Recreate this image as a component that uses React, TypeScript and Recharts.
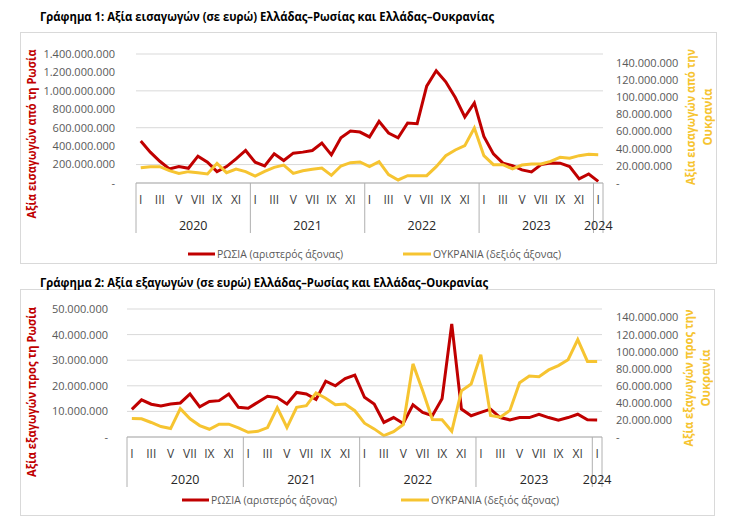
import { LineChart, Line, XAxis, YAxis, CartesianGrid } from 'recharts'

const FONT = '"Open Sans", sans-serif'
const RED = '#c00000'
const YELLOW = '#f6c431'
const GRID = '#d9d9d9'
const AXIS = '#b0b0b0'

const YEARS = [2020, 2021, 2022, 2023, 2024]
const MONTHS = ['I', 'II', 'III', 'IV', 'V', 'VI', 'VII', 'VIII', 'IX', 'X', 'XI', 'XII']
// Jan 2020 .. Jan 2024
const PERIODS = YEARS.flatMap((y) => (y === 2024 ? MONTHS.slice(0, 1) : MONTHS).map((_, i) => `${y}-${i}`))

// values in millions of euros
const RUSSIA_IMPORTS = [
  455, 335, 236, 153, 178, 160, 291, 225, 124, 178, 262, 353,
  225, 185, 316, 244, 324, 335, 353, 433, 305, 491, 564, 553,
  500, 669, 542, 491, 651, 644, 1051, 1218, 1098, 927, 716, 869,
  505, 316, 215, 189, 142, 120, 200, 218, 215, 178, 44, 98,
  18,
]
const UKRAINE_IMPORTS = [
  17.8, 19, 19, 14.3, 11.2, 13.2, 12, 10.5, 22.9, 12, 16.3, 13.2,
  8.1, 13.6, 18.2, 20.9, 11.2, 14.3, 15.9, 17.4, 8.9, 19.8, 23.6, 24.4,
  19, 24.8, 9.7, 3.5, 8.5, 8.5, 8.5, 19, 31.8, 38.4, 43.4, 64,
  31.8, 21.3, 21.3, 16.3, 20.9, 22.1, 22.1, 25.2, 29.8, 28.7, 31.8, 33.3,
  32.9,
]
const RUSSIA_EXPORTS = [
  10.8, 14.5, 12.8, 12.1, 12.9, 13.3, 16.8, 11.8, 13.9, 14.2, 16.8, 11.6,
  11.2, 13.6, 15.9, 15.4, 12.9, 17.4, 16.8, 14.7, 21.8, 20, 22.8, 24.2,
  15.5, 12.9, 5.7, 7.6, 5.3, 12.6, 9.6, 8.3, 14.9, 44.2, 10.9, 8.3,
  9.6, 10.9, 7.6, 6.7, 7.6, 7.6, 8.9, 7.6, 6.6, 7.6, 8.9, 6.7,
  6.6,
]
const UKRAINE_EXPORTS = [
  21.7, 21.3, 17, 12.2, 9.9, 33.2, 21.3, 13.4, 9.1, 15, 15, 10.7,
  5.5, 6.7, 11.1, 34.4, 11.1, 34.8, 36.7, 51.7, 45.4, 37.9, 38.7, 30.8,
  16.2, 9.5, 1.6, 6.3, 14.6, 85.7, 54.1, 20.5, 20.1, 6.7, 54.1, 62,
  96.4, 25.3, 23.3, 31.2, 63.6, 71.5, 70.7, 78.6, 83.7, 90.5, 114.2, 88.5,
  88.5,
]

const IMPORT_LEFT_TICKS = [0, 200, 400, 600, 800, 1000, 1200, 1400]
const EXPORT_LEFT_TICKS = [0, 10, 20, 30, 40, 50]
const RIGHT_TICKS = [0, 20, 40, 60, 80, 100, 120, 140]

const importData = PERIODS.map((p, i) => ({ period: p, russia: RUSSIA_IMPORTS[i], ukraine: UKRAINE_IMPORTS[i] }))
const exportData = PERIODS.map((p, i) => ({ period: p, russia: RUSSIA_EXPORTS[i], ukraine: UKRAINE_EXPORTS[i] }))

const fmt = (v: number) =>
  v === 0 ? '-' : String(Math.round(v * 1e6)).replace(/\B(?=(\d{3})+(?!\d))/g, '.')

const PeriodTick = ({ x, y, payload, step }: any) => {
  const [yr, mi] = String(payload.value).split('-')
  const m = Number(mi)
  const n = PERIODS.filter((p) => p.startsWith(yr + '-')).length
  const last = PERIODS.indexOf(payload.value) === PERIODS.length - 1
  const half = step / 2
  let yearX: number | null = null
  if (n % 2 === 0 && m === n / 2) yearX = x - half
  if (n % 2 === 1 && m === (n - 1) / 2) yearX = x
  return (
    <g>
      {m % 2 === 0 && (
        <text x={x} y={y + 17} dy="0.35em" textAnchor="middle" fill="#404040" fontSize={12} fontFamily={FONT}>
          {MONTHS[m]}
        </text>
      )}
      {m === 0 && <line x1={x - half} x2={x - half} y1={y} y2={y + 50} stroke={AXIS} />}
      {last && <line x1={x + half} x2={x + half} y1={y} y2={y + 50} stroke={AXIS} />}
      {yearX !== null && (
        <text x={yearX} y={y + 43} dy="0.35em" textAnchor="middle" fill="#262626" fontSize={12.5} fontFamily={FONT}>
          {yr}
        </text>
      )}
    </g>
  )
}

function Panel({ data, top, height, marginTop, plotLeft, plotRight, xHeight, leftMax, leftTicks, leftGap, rightGap }: any) {
  const width = 732
  const step = (plotRight - plotLeft) / PERIODS.length
  const tick = { fill: '#595959', fontSize: 11, fontFamily: FONT }
  return (
    <div style={{ position: 'absolute', left: 0, top }}>
      <LineChart width={width} height={height} data={data} margin={{ top: marginTop, right: 0, bottom: 0, left: 0 }}>
        <CartesianGrid yAxisId="left" vertical={false} stroke={GRID} />
        <XAxis
          dataKey="period"
          interval={0}
          height={xHeight}
          padding={{ left: step / 2, right: step / 2 }}
          tickLine={false}
          tickSize={0}
          tickMargin={0}
          axisLine={{ stroke: AXIS }}
          tick={(p: any) => <PeriodTick {...p} step={step} />}
        />
        <YAxis
          yAxisId="left"
          width={plotLeft}
          domain={[0, leftMax]}
          ticks={leftTicks}
          tickFormatter={fmt}
          axisLine={false}
          tickLine={false}
          tickSize={0}
          tickMargin={leftGap}
          tick={tick}
        />
        <YAxis
          yAxisId="right"
          orientation="right"
          width={width - plotRight}
          domain={[0, 150]}
          ticks={RIGHT_TICKS}
          tickFormatter={fmt}
          axisLine={false}
          tickLine={false}
          tickSize={0}
          tickMargin={rightGap}
          tick={tick}
        />
        <Line yAxisId="left" dataKey="russia" stroke={RED} strokeWidth={3} dot={false} isAnimationActive={false} />
        <Line yAxisId="right" dataKey="ukraine" stroke={YELLOW} strokeWidth={3} dot={false} isAnimationActive={false} />
      </LineChart>
    </div>
  )
}

const Legend = ({ y, redX, yellowX }: any) => (
  <g fontFamily={FONT} fontSize={11.5} fill="#595959">
    <line x1={redX} x2={redX + 27} y1={y} y2={y} stroke={RED} strokeWidth={3} />
    <text x={redX + 29} y={y} dy="0.35em" textLength={126} lengthAdjust="spacingAndGlyphs">
      ΡΩΣΙΑ (αριστερός άξονας)
    </text>
    <line x1={yellowX} x2={yellowX + 28} y1={y} y2={y} stroke={YELLOW} strokeWidth={3} />
    <text x={yellowX + 30} y={y} dy="0.35em" textLength={128} lengthAdjust="spacingAndGlyphs">
      ΟΥΚΡΑΝΙΑ (δεξιός άξονας)
    </text>
  </g>
)

const AxisTitle = ({ x, y, color, children, len }: any) => (
  <text
    x={0}
    y={0}
    transform={`translate(${x},${y}) rotate(-90)`}
    textAnchor="middle"
    dy="0.35em"
    fill={color}
    fontFamily={FONT}
    fontWeight={700}
    fontSize={12.5}
    textLength={len}
    lengthAdjust="spacingAndGlyphs"
  >
    {children}
  </text>
)

export default function App() {
  return (
    <div style={{ position: 'absolute', left: 0, top: 0, width: 732, height: 524, background: '#fff', overflow: 'hidden' }}>
      <div style={{ position: 'absolute', left: 20, top: 32, width: 695, height: 230, border: `1px solid ${GRID}` }} />
      <div style={{ position: 'absolute', left: 20, top: 289, width: 693, height: 225, border: `1px solid ${GRID}` }} />
      <Panel
        data={importData}
        top={0}
        height={250}
        marginTop={54}
        plotLeft={136}
        plotRight={603}
        xHeight={67}
        leftMax={1400}
        leftTicks={IMPORT_LEFT_TICKS}
        leftGap={21}
        rightGap={13}
      />
      <Panel
        data={exportData}
        top={260}
        height={240}
        marginTop={49}
        plotLeft={127}
        plotRight={602}
        xHeight={63}
        leftMax={50}
        leftTicks={EXPORT_LEFT_TICKS}
        leftGap={19}
        rightGap={14}
      />
      <svg width={732} height={524} style={{ position: 'absolute', left: 0, top: 0, pointerEvents: 'none' }}>
        <text x={40} y={17} dy="0.35em" fontFamily={FONT} fontWeight={700} fontSize={12.5} fill="#000" textLength={454} lengthAdjust="spacingAndGlyphs">
          Γράφημα 1: Αξία εισαγωγών (σε ευρώ) Ελλάδας–Ρωσίας και Ελλάδας–Ουκρανίας
        </text>
        <text x={40} y={283} dy="0.35em" fontFamily={FONT} fontWeight={700} fontSize={12.5} fill="#000" textLength={448} lengthAdjust="spacingAndGlyphs">
          Γράφημα 2: Αξία εξαγωγών (σε ευρώ) Ελλάδας–Ρωσίας και Ελλάδας–Ουκρανίας
        </text>

        <AxisTitle x={32} y={134} color={RED} len={169}>Αξία εισαγωγών από τη Ρωσία</AxisTitle>
        <AxisTitle x={691} y={117} color={YELLOW} len={136}>Αξία εισαγωγών από την</AxisTitle>
        <AxisTitle x={708} y={117} color={YELLOW} len={57}>Ουκρανία</AxisTitle>

        <AxisTitle x={32} y={392} color={RED} len={170}>Αξία εξαγωγών προς τη Ρωσία</AxisTitle>
        <AxisTitle x={689} y={378} color={YELLOW} len={137}>Αξία εξαγωγών προς την</AxisTitle>
        <AxisTitle x={706} y={378} color={YELLOW} len={57}>Ουκρανία</AxisTitle>

        <Legend y={254} redX={188} yellowX={403} />
        <Legend y={500} redX={182} yellowX={401} />
      </svg>
    </div>
  )
}
